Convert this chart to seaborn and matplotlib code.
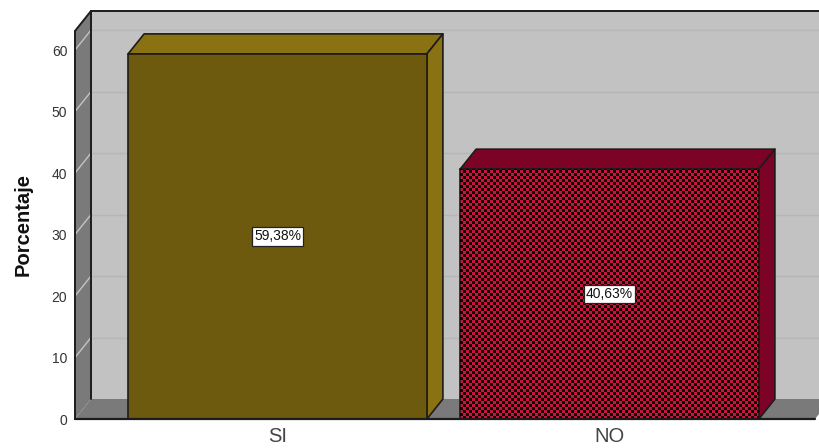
import numpy as np
import matplotlib
matplotlib.use("Agg")
import matplotlib.pyplot as plt
from matplotlib.patches import Polygon
import seaborn as sns

categories = ["SI", "NO"]
percentages = [59.38, 40.63]
y_ticks = [0, 10, 20, 30, 40, 50, 60]

FRONT = {"SI": "#6e5a0f", "NO": "#c8143f"}
TOP = {"SI": "#8a7112", "NO": "#7c0326"}
SIDE = {"SI": "#8a7112", "NO": "#7c0326"}
EDGE = "#1c1c1c"
WALL = "#c2c2c2"
DARK_WALL = "#7a7a7a"

sns.set_theme(style="white")
plt.rcParams["font.family"] = ["Liberation Sans", "DejaVu Sans"]

W, H = 819, 448
fig = plt.figure(figsize=(W / 100, H / 100), dpi=100, facecolor="white")
ax = fig.add_axes([75 / W, (H - 419) / H, 740 / W, 388 / H])

sns.barplot(x=categories, y=percentages, hue=categories, palette=FRONT,
            width=0.9, saturation=1, legend=False, ax=ax)

XMIN, XMAX, YMAX = -0.61, 1.619, 63.1
ax.set_xlim(XMIN, XMAX)
ax.set_ylim(0, YMAX)

# Depth of the pseudo-3D box, expressed in data units
dx = 16 / (740 / (XMAX - XMIN))
dy = 20 / (388 / YMAX)
FAR = XMAX + 2 * dx


def face(points, color, z, edge="none", lw=0):
    ax.add_patch(Polygon(points, closed=True, facecolor=color, edgecolor=edge,
                         linewidth=lw, zorder=z, clip_on=False, joinstyle="round"))


# Back wall, side wall and floor
face([(XMIN + dx, dy), (FAR, dy), (FAR, YMAX + dy), (XMIN + dx, YMAX + dy)], WALL, 0)
face([(XMIN, 0), (XMIN + dx, dy), (XMIN + dx, YMAX + dy), (XMIN, YMAX)], DARK_WALL, 0.2)
face([(XMIN, 0), (XMAX, 0), (XMAX + dx, dy), (XMIN + dx, dy)], DARK_WALL, 0.2)

# Grid lines wrap from the side wall onto the back wall
for t in y_ticks[1:]:
    ax.plot([XMIN + dx, FAR], [t + dy, t + dy], color="#b6b6b6", lw=1.0, zorder=0.5, clip_on=False)
    ax.plot([XMIN, XMIN + dx], [t, t + dy], color="#c4c4c4", lw=1.0, zorder=0.5, clip_on=False)

# Box outline
outline = dict(color=EDGE, lw=1.4, zorder=1, clip_on=False, solid_capstyle="round")
ax.plot([XMIN + dx, XMIN + dx], [dy, YMAX + dy], **outline)
ax.plot([XMIN + dx, FAR], [YMAX + dy, YMAX + dy], **outline)
ax.plot([XMIN, XMIN], [0, YMAX], **outline)
ax.plot([XMIN, XMIN + dx], [YMAX, YMAX + dy], **outline)
ax.plot([XMIN, XMAX], [0, 0], color=EDGE, lw=1.6, zorder=6, clip_on=False)

# Extrude each bar and add its value label
for bar, cat, val in zip(ax.patches, categories, percentages):
    x0, x1 = bar.get_x(), bar.get_x() + bar.get_width()
    bar.set_edgecolor(EDGE)
    bar.set_linewidth(1.2)
    bar.set_zorder(3)
    face([(x0, val), (x1, val), (x1 + dx, val + dy), (x0 + dx, val + dy)], TOP[cat], 2, EDGE, 1.2)
    face([(x1, 0), (x1 + dx, dy), (x1 + dx, val + dy), (x1, val)], SIDE[cat], 2, EDGE, 1.2)

    if cat == "NO":
        # Black checker pattern over the red front face, sampled once per output pixel
        nx = int(round((x1 - x0) * 740 / (XMAX - XMIN)))
        ny = int(round(val * 388 / YMAX))
        cell = 3
        rows, cols = np.indices((ny, nx))
        checker = ((rows // cell + cols // cell) % 2).astype(float)
        rgba = np.zeros((ny, nx, 4))
        rgba[..., 0] = 0.07
        rgba[..., 3] = checker
        img = ax.imshow(rgba, extent=(x0, x1, 0, val), origin="lower", aspect="auto",
                        interpolation="nearest", zorder=3.5)
        img.set_clip_path(bar)

    ax.text((x0 + x1) / 2, val / 2, f"{val:.2f}%".replace(".", ","), ha="center", va="center",
            fontsize=10, color="#111111", zorder=7,
            bbox=dict(boxstyle="square,pad=0.15", facecolor="white", edgecolor="#222222", linewidth=0.9))

ax.set_xlim(XMIN, XMAX)
ax.set_ylim(0, YMAX)
ax.set_yticks(y_ticks)
ax.tick_params(axis="y", length=0, pad=5.5, labelsize=10, labelcolor="#333333")
ax.tick_params(axis="x", length=0, pad=6, labelsize=14.5, labelcolor="#444444")
for lbl in ax.get_yticklabels():
    lbl.set_verticalalignment("center_baseline")
ax.set_xlabel("")
ax.set_ylabel("Porcentaje", fontsize=14.5, fontweight="bold", color="#111111")
ax.yaxis.set_label_coords(33 / W, (H - 225) / H, transform=fig.transFigure)
sns.despine(ax=ax, left=True, bottom=True, right=True, top=True)
ax.patch.set_visible(False)

fig.savefig("out.png", dpi=100, facecolor="white")
